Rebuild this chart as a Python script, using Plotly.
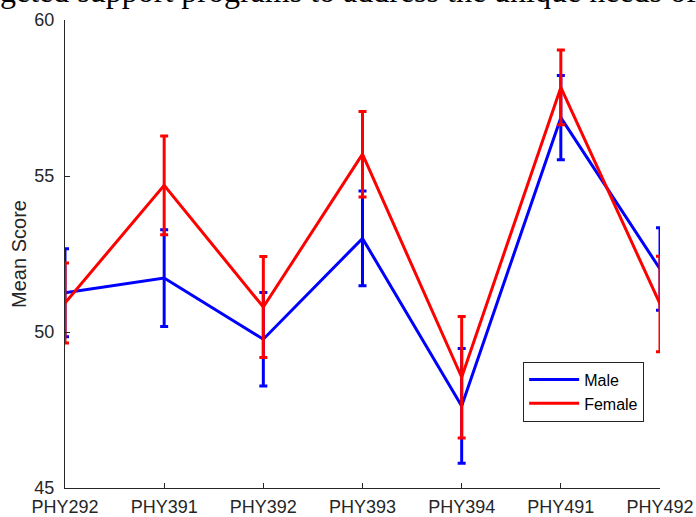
import plotly.graph_objects as go

courses = ["PHY292", "PHY391", "PHY392", "PHY393", "PHY394", "PHY491", "PHY492"]
male_mean = [51.26, 51.73, 49.77, 53.0, 47.63, 56.87, 52.02]
male_err = [1.41, 1.55, 1.5, 1.52, 1.84, 1.35, 1.32]
female_mean = [50.93, 54.7, 50.8, 55.7, 48.55, 57.84, 50.9]
female_err = [1.28, 1.58, 1.62, 1.37, 1.95, 1.2, 1.53]
y_ticks = [45, 50, 55, 60]
caption = "geted support programs to address the unique needs of"

xpos = list(range(len(courses)))
AX = "#262626"

fig = go.Figure()
for name, mean, err, col in [("Male", male_mean, male_err, "#0000FF"),
                             ("Female", female_mean, female_err, "#FF0000")]:
    fig.add_trace(go.Scatter(
        x=xpos, y=mean, name=name, mode="lines",
        line=dict(color=col, width=3),
        error_y=dict(type="data", array=err, visible=True, color=col,
                     thickness=3, width=4),
        cliponaxis=False,
    ))

fig.update_layout(
    width=696, height=517, autosize=False,
    margin=dict(l=65, r=36, t=20, b=29, pad=0),
    paper_bgcolor="white", plot_bgcolor="white",
    font=dict(family="Liberation Sans, Arial, sans-serif", size=18, color=AX),
    showlegend=True,
    legend=dict(x=0.77, y=0.27, xanchor="left", yanchor="top",
                bgcolor="white", bordercolor=AX, borderwidth=1,
                itemwidth=50,
                font=dict(size=16, color="black"), tracegroupgap=0),
    xaxis=dict(range=[0, 6], tickvals=xpos, ticktext=courses, automargin=False,
               showgrid=False, zeroline=False, showline=True,
               linecolor=AX, linewidth=1, ticks="inside", ticklen=5,
               tickcolor=AX, mirror=False, ticklabelstandoff=2),
    yaxis=dict(range=[45, 60], tickvals=y_ticks, automargin=False,
               showgrid=False, zeroline=False, showline=True,
               linecolor=AX, linewidth=1, ticks="inside", ticklen=5,
               tickcolor=AX, mirror=False, ticklabelstandoff=6,
               title=dict(text="Mean Score", font=dict(size=20, color=AX), standoff=2)),
    annotations=[dict(text=caption, xref="paper", yref="paper",
                      x=-67/595, y=1 + 29/468, xanchor="left", yanchor="middle",
                      showarrow=False,
                      font=dict(family="Liberation Serif, Times New Roman, serif",
                                size=32, color="black"))],
)

fig.write_html(
    "out.html",
    config={"responsive": False, "displayModeBar": False},
    post_script="document.body.style.margin='0';document.body.style.overflow='hidden';",
)
